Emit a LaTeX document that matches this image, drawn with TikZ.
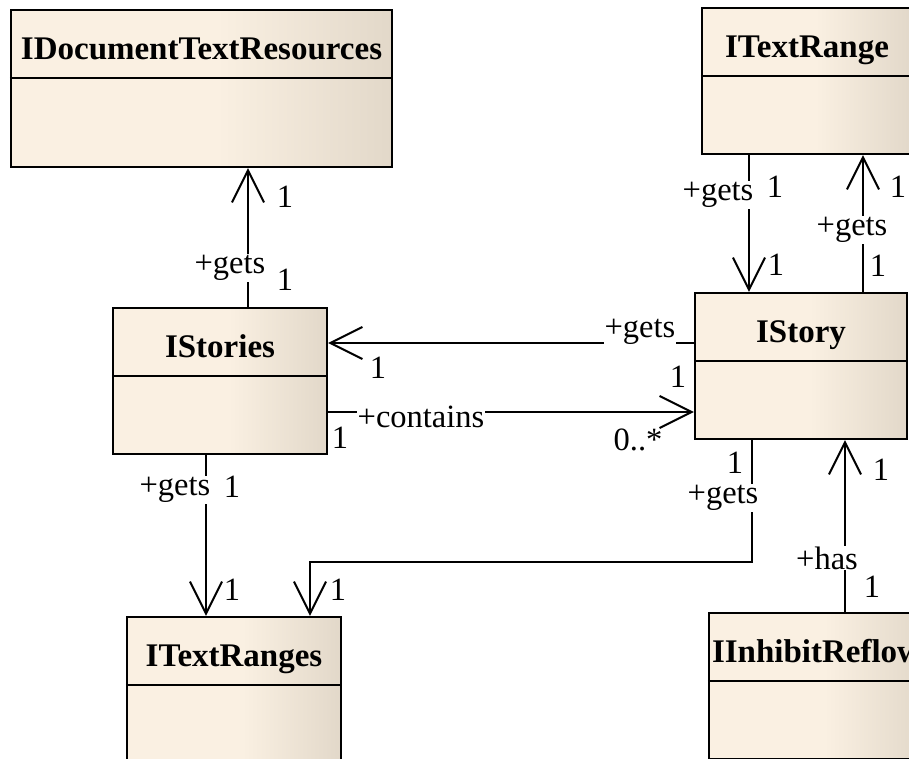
\documentclass[tikz,border=0pt]{standalone}
\usepackage{fontspec}
\setmainfont{Liberation Serif}
\usetikzlibrary{arrows.meta}
\definecolor{boxL}{HTML}{FAF0E2}
\definecolor{boxR}{HTML}{E2D8C9}
\pgfdeclarehorizontalshading{umlfill}{100bp}{color(0bp)=(boxL); color(25bp)=(boxL); color(52bp)=(boxL); color(75bp)=(boxR); color(100bp)=(boxR)}
\tikzset{
  umlbox/.style={draw, line width=2.4pt, shade, shading=umlfill, inner sep=0pt, minimum height=146pt},
  divider/.style={line width=2pt},
  title/.style={font=\fontsize{33}{38}\selectfont\bfseries, anchor=base, inner sep=0pt},
  lbl/.style={font=\fontsize{32.5}{36}\selectfont, inner sep=0.5pt},
  onl/.style={lbl, fill=white, inner sep=1pt},
  assoc/.style={line width=2pt, -{Straight Barb[length=32pt,width=32pt]}},
}
\begin{document}
\begin{tikzpicture}[x=1pt, y=-1pt]
\useasboundingbox (0,0) rectangle (909,759);
\clip (0,0) rectangle (909,759);
% boxes
\node[umlbox, minimum width=381pt, minimum height=157pt] (dtr) at (201.5,88.5) {};
\node[umlbox, minimum width=210pt] (tr) at (807,81) {};
\node[umlbox, minimum width=214pt] (stories) at (220,381) {};
\node[umlbox, minimum width=212pt] (story) at (801,366) {};
\node[umlbox, minimum width=214pt] (trs) at (234,690) {};
\node[umlbox, minimum width=214pt] (inh) at (816,686) {};
% dividers
\foreach \b in {dtr,tr,stories,story,trs,inh}{
  \draw[divider] ([yshift=-69pt]\b.north west) -- ([yshift=-69pt]\b.north east);
}
% titles
\node[title] (tdtr) at ([yshift=-51pt]dtr.north) {IDocumentTextResources};
\node[title] (ttr) at ([yshift=-51pt]tr.north) {ITextRange};
\node[title] (tstories) at ([yshift=-51pt]stories.north) {IStories};
\node[title] (tstory) at ([yshift=-51pt]story.north) {IStory};
\node[title] (ttrs) at ([yshift=-51pt]trs.north) {ITextRanges};
\node[title, anchor=base west] (tinh) at ([yshift=-51pt,xshift=4pt]inh.north west) {IInhibitReflow};
% connector anchors
\coordinate (c1) at ([xshift=28pt]stories.north);
\coordinate (c2) at ([yshift=23pt]story.west);
\coordinate (c3) at ([yshift=-31pt]stories.east);
\coordinate (c4) at ([xshift=-58pt]tr.south);
\coordinate (c5) at ([xshift=62pt]story.north);
\coordinate (c6) at ([xshift=-49pt]story.south);
\coordinate (c6e) at ([xshift=76pt]trs.north);
\coordinate (c7) at ([xshift=-14pt]stories.south);
\coordinate (c8) at ([xshift=29pt]inh.north);
% connectors
\draw[assoc] (c1) -- (c1 |- dtr.south);
\draw[assoc] (c2) -- (c2 -| stories.east);
\draw[assoc] (c3) -- (c3 -| story.west);
\draw[assoc] (c4) -- (c4 |- story.north);
\draw[assoc] (c5) -- (c5 |- tr.south);
\draw[assoc] (c6) |- ([yshift=54pt]c6e) -- (c6e);
\draw[assoc] (c7) -- (c7 |- trs.north);
\draw[assoc] (c8) -- (c8 |- story.south);
% labels
\node[lbl] (l1a) at (285,197) {1};
\node[onl] (l1b) at (230,268) {+gets};
\node[lbl] (l1c) at (285,280) {1};
\node[onl] (l2a) at (640,332) {+gets};
\node[lbl] (l2b) at (378,368) {1};
\node[lbl] (l2c) at (678,377) {1};
\node[onl] (l3a) at (421,417) {+contains};
\node[lbl] (l3b) at (340,438) {1};
\node[lbl] (l3c) at (638,440) {0..*};
\node[onl] (l4a) at (718,195) {+gets};
\node[lbl] (l4b) at (775,187) {1};
\node[lbl] (l4c) at (776,265) {1};
\node[onl] (l5a) at (852,230) {+gets};
\node[lbl] (l5b) at (898,187) {1};
\node[lbl] (l5c) at (878,266) {1};
\node[lbl] (l6a) at (735,463) {1};
\node[onl] (l6b) at (723,498) {+gets};
\node[lbl] (l6c) at (338,590) {1};
\node[onl] (l7a) at (175,490) {+gets};
\node[lbl] (l7b) at (232,487) {1};
\node[lbl] (l7c) at (232,590) {1};
\node[onl] (l8a) at (827,558) {+has};
\node[lbl] (l8b) at (872,587) {1};
\node[lbl] (l8c) at (881,470) {1};
\end{tikzpicture}
\end{document}
